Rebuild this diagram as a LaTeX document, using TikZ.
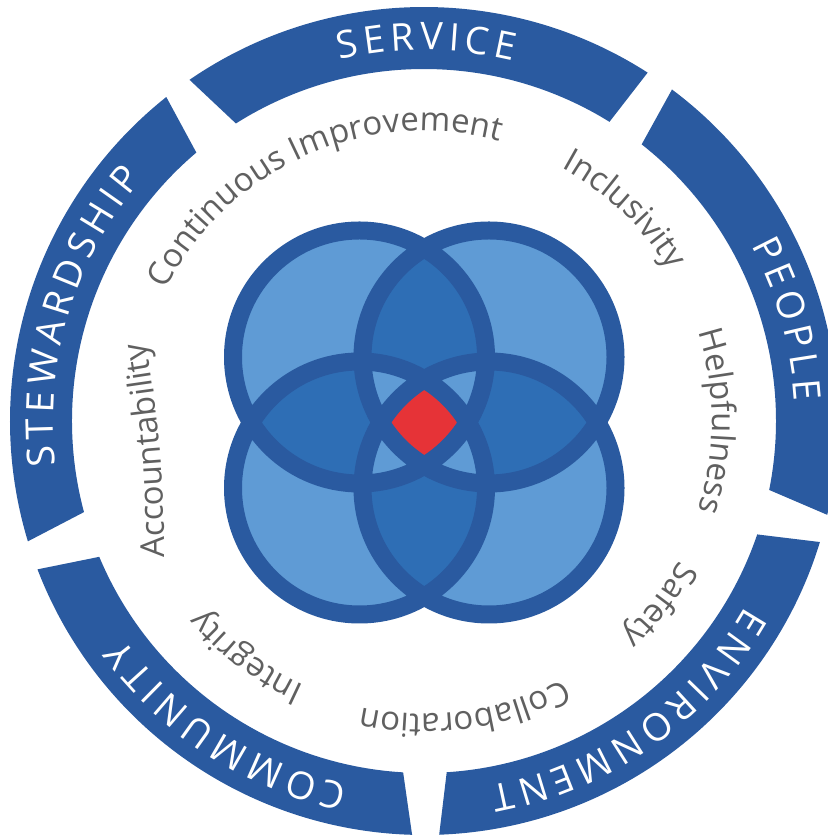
\documentclass[tikz,border=0pt]{standalone}
\usepackage{fontspec}
\setmainfont{Open Sans}
\usetikzlibrary{decorations.text}
\definecolor{ringblue}{HTML}{2A5AA0}
\definecolor{lightblue}{HTML}{5F9BD5}
\definecolor{midblue}{HTML}{2E6EB5}
\definecolor{redc}{HTML}{E63337}
\definecolor{greytext}{HTML}{606060}
\def\trkA#1{\kern2.6pt#1\kern2.6pt}
\newcommand\headfmt{\fontsize{38}{46}\selectfont\color{white}\trkA}
\newcommand\smallfmt{\fontsize{33}{40}\selectfont\color{greytext}}
% \seg{outer start}{outer end}{inner end}{inner start}
\newcommand\seg[4]{\fill[ringblue] (#1:414pt) arc[start angle=#1,end angle=#2,radius=414pt] -- (#3:352pt) arc[start angle=#3,end angle=#4,radius=352pt] -- cycle;}
% \headtext{mid angle}{half span}{text}
\newcommand\headtext[3]{\path[decorate,decoration={text along path,text align=center,text={|\headfmt|#3}}] (#1+#2:371pt) arc[start angle=#1+#2,end angle=#1-#2,radius=371pt];}
% \ringtext{mid angle}{half span}{radius}{text}
\newcommand\ringtext[4]{\path[decorate,decoration={text along path,text align=center,text={|\smallfmt|#4}}] (#1+#2:#3pt) arc[start angle=#1+#2,end angle=#1-#2,radius=#3pt];}
\begin{document}
\begin{tikzpicture}[x=1pt,y=1pt]
\useasboundingbox (0,0) rectangle (827,837);
% circles
\def\cTL{(359.5pt,480pt) circle[radius=126.5pt]}
\def\cTR{(489pt,480pt) circle[radius=126.5pt]}
\def\cBL{(359.5pt,349pt) circle[radius=126.5pt]}
\def\cBR{(489pt,349pt) circle[radius=126.5pt]}
\fill[lightblue] \cTL \cTR \cBL \cBR;
\begin{scope}\clip \cTL;\fill[midblue] \cTR;\fill[midblue] \cBL;\end{scope}
\begin{scope}\clip \cBR;\fill[midblue] \cTR;\fill[midblue] \cBL;\end{scope}
\begin{scope}\clip \cTL;\clip \cTR;\fill[lightblue] \cBL;\fill[lightblue] \cBR;\end{scope}
\begin{scope}\clip \cBL;\clip \cBR;\fill[lightblue] \cTL;\fill[lightblue] \cTR;\end{scope}
\begin{scope}\clip \cTL;\clip \cTR;\clip \cBL;\fill[redc] \cBR;\end{scope}
\draw[ringblue,line width=18pt] \cTL \cTR \cBL \cBR;
% ring
\begin{scope}[shift={(424pt,416pt)}]
\seg{124.5}{57.3}{58.2}{122.3}
\seg{53.2}{-13.1}{-11.3}{51.8}
\seg{-17.0}{-87.9}{-86.3}{-18.8}
\seg{-91.65}{-159.0}{-157.3}{-93.4}
\seg{-163.1}{-231.5}{-229.7}{-165.0}
\headtext{90}{33}{SERVICE}
\headtext{16}{30}{PEOPLE}
\headtext{-54.5}{34}{ENVIRONMENT}
\headtext{-122.5}{32}{COMMUNITY}
\headtext{163.5}{33}{STEWARDSHIP}
\ringtext{114}{45}{290}{Continuous Improvement}
\ringtext{46.5}{24}{288}{Inclusivity}
\ringtext{0}{22}{288}{Helpfulness}
\ringtext{-38}{15}{291}{Safety}
\ringtext{-82}{28}{293}{Collaboration}
\ringtext{-127}{20}{290}{Integrity}
\end{scope}
\path[decorate,decoration={text along path,text align=center,text={|\smallfmt|Accountability}}] (164,270) .. controls (165,347) and (159,427) .. (144,504);
\end{tikzpicture}
\end{document}
